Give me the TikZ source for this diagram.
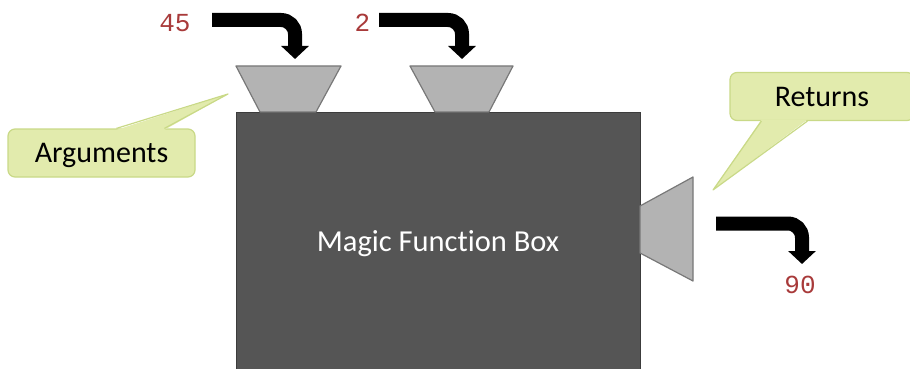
\documentclass[tikz,border=0pt]{standalone}
\usepackage{fontspec}
\setmainfont{Carlito}[Ligatures=NoCommon]
\setmonofont{Liberation Mono}
\usetikzlibrary{arrows.meta}
\definecolor{boxgray}{HTML}{555555}
\definecolor{boxedge}{HTML}{3C3C3C}
\definecolor{funnelgray}{HTML}{B3B3B3}
\definecolor{funneledge}{HTML}{787878}
\definecolor{notefill}{HTML}{E2EBAD}
\definecolor{noteedge}{HTML}{C9D987}
\definecolor{numred}{HTML}{A83A3A}

\begin{document}
\begin{tikzpicture}[x=1pt,y=-1pt,
    funnel/.style={fill=funnelgray,draw=funneledge,line width=1.2pt,line join=round},
    note/.style={fill=notefill,draw=noteedge,line width=1.2pt,rounded corners=7pt,
      minimum height=48pt,inner sep=0pt,text height=19pt,text depth=0pt,
      font=\fontsize{30}{36}\selectfont},
    num/.style={font=\ttfamily\fontsize{26}{30}\selectfont,text=numred,inner sep=0pt,anchor=base},
    flow/.style={line width=14pt,rounded corners=14pt,-{Triangle[width=27pt,length=13pt]}}]
  \useasboundingbox (0,0) rectangle (910,369);
  \clip (0,0) rectangle (910,369);

  % the box itself, runs off the bottom
  \node[draw=boxedge,fill=boxgray,line width=1.2pt,minimum width=404pt,minimum height=280pt,
    anchor=north west] (box) at (236,112) {};
  \node[text=white,font=\fontsize{30.5}{36}\selectfont,inner sep=0pt,anchor=base] (boxname) at (438,251) {Magic Function Box};

  % input funnels on top, output funnel on the right
  \draw[funnel] (236,66) -- (341,66) -- (316,112) -- (260,112) -- cycle;
  \draw[funnel] (410,66) -- (513,66) -- (489,112) -- (435,112) -- cycle;
  \draw[funnel] (640,206) -- (693,177) -- (693,281) -- (640,253) -- cycle;

  % values going in and out
  \node[num] (a45) at (175,32) {45};
  \node[num] (a2) at (362.5,32) {2};
  \node[num] (r90) at (800,293) {90};
  \coordinate (s1) at (212,20);
  \coordinate (s2) at (379,20);
  \coordinate (s3) at (716,223.5);
  \coordinate (in1) at (295,59);
  \coordinate (in2) at (462,59);
  \coordinate (out1) at (802,264);
  \draw[flow] (s1) -| (in1);
  \draw[flow] (s2) -| (in2);
  \draw[flow] (s3) -| (out1);

  % callouts
  \node[note,minimum width=187pt] (args) at (101.5,153) {Arguments};
  \coordinate (argtip) at (228,94);
  \fill[notefill] ([shift={(109,1.5)}]args.north west) -- (argtip) -- ([shift={(157,1.5)}]args.north west) -- cycle;
  \draw[noteedge,line width=1.2pt,line join=round] ([xshift=109pt]args.north west) -- (argtip) -- ([xshift=157pt]args.north west);

  \node[note,minimum width=184pt] (rets) at (822,96.5) {Returns};
  \coordinate (rettip) at (713,190);
  \fill[notefill] ([shift={(32,-1.5)}]rets.south west) -- (rettip) -- ([shift={(78,-1.5)}]rets.south west) -- cycle;
  \draw[noteedge,line width=1.2pt,line join=round] ([xshift=32pt]rets.south west) -- (rettip) -- ([xshift=78pt]rets.south west);
\end{tikzpicture}
\end{document}
